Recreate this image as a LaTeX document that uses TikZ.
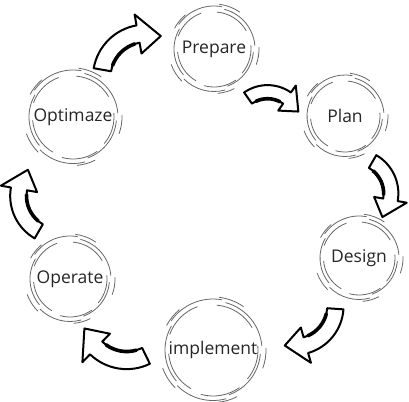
\documentclass[tikz,border=0pt]{standalone}
\usepackage{fontspec}
\setmainfont{Open Sans}
\usetikzlibrary{calc}

% hand drawn ring round a stage: #1 node name, #2 radius
\newcommand\sketchring[2]{%
  \foreach \a/\s/\d in {5/70/0, 80/65/2, 150/70/-1, 225/60/1.5, 290/65/-1.5}
    \draw[ring] (#1.center) ++(\a:{#2+\d}) arc[start angle=\a, delta angle=\s, radius={#2+\d}];
  \foreach \a/\s/\d in {30/55/-4, 110/50/-3, 185/55/-4.5, 255/50/-3, 320/45/-4}
    \draw[ring] (#1.center) ++(\a:{#2+\d}) arc[start angle=\a, delta angle=\s, radius={#2+\d}];
  % little bulges on the rim
  \foreach \a/\s/\d in {55/28/4, 130/22/3.5, 200/25/4.5, 275/22/3.5, 340/22/4}
    \draw[ring] (#1.center) ++(\a:{#2+\d}) arc[start angle=\a, delta angle=\s, radius={#2+\d}];
}

\tikzset{
  ring/.style={draw=black!60, line width=0.8pt, line cap=round},
  stage/.style={font=\fontsize{17.5}{20}\selectfont, text=black!85, inner sep=0pt},
  arrowbody/.style={draw=black, fill=white, line width=2pt, line join=round},
  arrowedge/.style={draw=black, line width=3.6pt, line cap=round},
  bendarrow/.pic={
    \begin{scope}[yshift=-34pt]
      \path[arrowbody] (140:48pt) arc[start angle=140, end angle=70, radius=48pt]
        -- (70:58pt) -- (40:40pt) -- (70:22pt) -- (70:32pt)
        arc[start angle=70, end angle=140, radius=32pt] -- cycle;
      \draw[arrowedge] (130:32pt) arc[start angle=130, end angle=78, radius=32pt];
    \end{scope}
  },
}

\begin{document}
\begin{tikzpicture}[x=1pt, y=1pt]
  \useasboundingbox (0,0) rectangle (409,401);

  % stages round the cycle
  \node[stage] (prep)   at (214,352) {Prepare};
  \node[stage] (plan)   at (345,285) {Plan};
  \node[stage] (design) at (359,143) {Design};
  \node[stage] (impl)   at (213,51)  {implement};
  \node[stage] (oper)   at (70,122)  {Operate};
  \node[stage] (optim)  at (73,284)  {Optimaze};

  % sketched rings
  \sketchring{prep}{41}
  \sketchring{plan}{39}
  \sketchring{design}{40}
  \sketchring{impl}{49}
  \sketchring{oper}{41}
  \sketchring{optim}{45}

  % curved arrows from stage to stage
  \pic[rotate=30, scale=1.1]  at ($(optim)!.5!(prep)+(-16.5,38)$)  {bendarrow};
  \pic[rotate=-15, scale=0.85] at ($(prep)!.5!(plan)+(-4.5,-15.5)$) {bendarrow};
  \pic[rotate=-80, scale=0.92] at ($(plan)!.5!(design)+(33,-1)$)   {bendarrow};
  \pic[rotate=216, scale=1.02] at ($(design)!.5!(impl)+(29,-30)$)  {bendarrow};
  \pic[rotate=156, scale=1.1] at ($(impl)!.5!(oper)+(-30,-36)$)    {bendarrow};
  \pic[rotate=100, scale=1.02] at ($(oper)!.5!(optim)+(-46.5,-4)$) {bendarrow};
\end{tikzpicture}
\end{document}
